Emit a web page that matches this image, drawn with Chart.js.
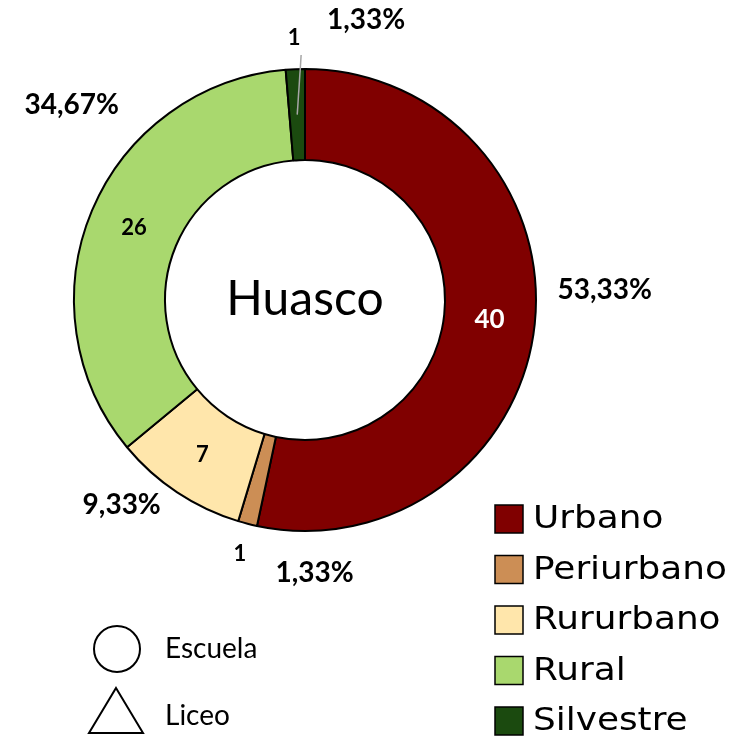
<!DOCTYPE html>
<html>
<head>
<meta charset="utf-8">
<script src="https://cdn.jsdelivr.net/npm/chart.js@4.4.0/dist/chart.umd.min.js"></script>
<style>
  html, body { margin: 0; padding: 0; background: #fff; }
  #wrap { position: relative; width: 750px; height: 739px; }
</style>
</head>
<body>
<div id="wrap"><canvas id="chart" width="750" height="739"></canvas></div>
<script>
// datos
const categorias = ["Urbano", "Periurbano", "Rururbano", "Rural", "Silvestre"];
const valores = [40, 1, 7, 26, 1];
const colores = ["#800000", "#CC8E55", "#FFE6AB", "#A9D86E", "#1B4A0F"];
const titulo = "Huasco";
const simbolos = ["Escuela", "Liceo"];

const total = valores.reduce((a, b) => a + b, 0);
const porcentajes = valores.map(v => (v / total * 100).toFixed(2).replace(".", ",") + "%");

// etiquetas de valores y porcentajes (como las de Excel)
const etiquetas = {
  id: "etiquetas",
  afterDatasetsDraw(chart, args, opts) {
    const ctx = chart.ctx;
    const meta = chart.getDatasetMeta(0);
    const rad = d => d * Math.PI / 180;
    ctx.save();
    ctx.textAlign = "center";
    ctx.textBaseline = "middle";
    meta.data.forEach((arc, i) => {
      const p = arc.getProps(["x", "y", "startAngle", "endAngle", "innerRadius", "outerRadius"], true);
      const mid = (p.startAngle + p.endAngle) / 2;
      const dentro = valores[i] / total > 0.05;

      // valor
      const rv = dentro ? (p.innerRadius + p.outerRadius) / 2 : p.outerRadius + 31;
      ctx.font = (i === 0 ? "bold 26px" : "bold 22px") + " Lato, sans-serif";
      ctx.fillStyle = i === 0 ? "#fff" : "#000";
      ctx.fillText(String(valores[i]), p.x + rv * Math.cos(mid), p.y + rv * Math.sin(mid));

      // linea guia
      if (opts.guia[i]) {
        ctx.strokeStyle = "#A6A6A6";
        ctx.lineWidth = 1.5;
        const r1 = p.outerRadius + 14, r2 = (p.innerRadius + p.outerRadius) / 2;
        const a1 = mid + rad(1.5), a2 = mid;
        ctx.beginPath();
        ctx.moveTo(p.x + r1 * Math.cos(a1), p.y + r1 * Math.sin(a1));
        ctx.lineTo(p.x + r2 * Math.cos(a2), p.y + r2 * Math.sin(a2));
        ctx.stroke();
      }

      // porcentaje
      const [da, dr] = opts.pct[i];
      const a = mid + rad(da), r = p.outerRadius + dr;
      ctx.font = "bold 28px Lato, sans-serif";
      ctx.fillStyle = "#000";
      ctx.fillText(porcentajes[i], p.x + r * Math.cos(a), p.y + r * Math.sin(a));
    });

    // titulo al centro
    const c = meta.data[0];
    ctx.font = "48px Lato, sans-serif";
    ctx.fillStyle = "#000";
    ctx.fillText(titulo, c.x, c.y);
    ctx.restore();
  }
};

// leyenda de categorias y simbolos
const leyenda = {
  id: "leyenda",
  afterDraw(chart) {
    const ctx = chart.ctx;
    ctx.save();
    ctx.textBaseline = "middle";
    categorias.forEach((cat, i) => {
      const y = 505 + i * 50.5;
      ctx.fillStyle = colores[i];
      ctx.fillRect(495, y, 28, 28);
      ctx.strokeStyle = "#000";
      ctx.lineWidth = 1.5;
      ctx.strokeRect(495, y, 28, 28);
      ctx.fillStyle = "#000";
      ctx.font = "32px 'DejaVu Sans', sans-serif";
      ctx.save();
      ctx.translate(533, y + 15);
      ctx.scale(1.12, 1);
      ctx.fillText(cat, 0, 0);
      ctx.restore();
    });

    ctx.strokeStyle = "#000";
    ctx.lineWidth = 2;
    ctx.beginPath();
    ctx.arc(117, 649, 23, 0, Math.PI * 2);
    ctx.stroke();
    ctx.beginPath();
    ctx.moveTo(116, 688);
    ctx.lineTo(143, 733);
    ctx.lineTo(89, 733);
    ctx.closePath();
    ctx.stroke();
    ctx.fillStyle = "#000";
    ctx.font = "28px Lato, sans-serif";
    ctx.fillText(simbolos[0], 165, 649);
    ctx.fillText(simbolos[1], 165, 716);
    ctx.restore();
  }
};

const fondo = {
  id: "fondo",
  beforeDraw(chart) {
    const ctx = chart.ctx;
    ctx.save();
    ctx.fillStyle = "#fff";
    ctx.fillRect(0, 0, chart.width, chart.height);
    ctx.restore();
  }
};

new Chart(document.getElementById("chart"), {
  type: "doughnut",
  data: {
    labels: categorias,
    datasets: [{
      data: valores,
      backgroundColor: colores,
      borderColor: "#000",
      borderWidth: 2,
      hoverOffset: 0
    }]
  },
  options: {
    responsive: false,
    animation: false,
    cutout: "60.6%",
    layout: { padding: { left: 73, right: 213, top: 68, bottom: 207 } },
    plugins: {
      legend: { display: false },
      tooltip: { enabled: false },
      etiquetas: {
        pct: [[-8, 69], [-16.4, 42], [8.2, 44], [17.1, 73], [14.7, 56]],
        guia: [false, false, false, false, true]
      }
    }
  },
  plugins: [fondo, etiquetas, leyenda]
});
</script>
</body>
</html>
